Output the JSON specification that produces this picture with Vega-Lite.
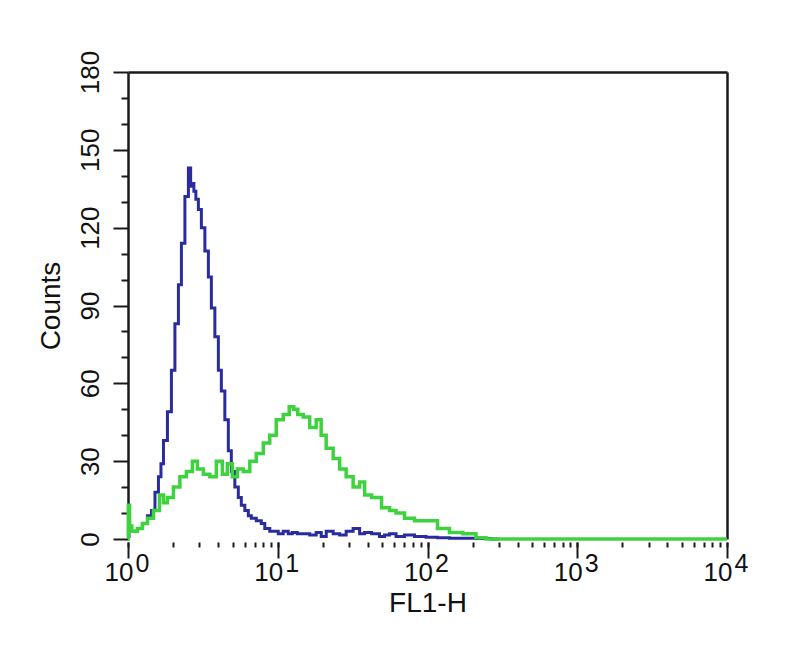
{
  "$schema": "https://vega.github.io/schema/vega-lite/v6.json",
  "width": 599,
  "height": 467,
  "autosize": "none",
  "padding": {"left": 128, "top": 72, "right": 73, "bottom": 117},
  "background": "white",
  "config": {
    "view": {"stroke": null},
    "font": "Liberation Sans",
    "axis": {"grid": false, "labelColor": "#111111", "titleColor": "#111111", "domainColor": "#1a1a1a", "tickColor": "#1a1a1a"}
  },
  "datasets": {
    "blue": [
      {"x": 1.0, "c": 1}, {"x": 1.031, "c": 3}, {"x": 1.113, "c": 3}, {"x": 1.202, "c": 4}, {"x": 1.298, "c": 6},
      {"x": 1.402, "c": 9}, {"x": 1.468, "c": 11}, {"x": 1.561, "c": 18}, {"x": 1.634, "c": 24}, {"x": 1.686, "c": 29},
      {"x": 1.765, "c": 38}, {"x": 1.905, "c": 49}, {"x": 1.995, "c": 65}, {"x": 2.121, "c": 83}, {"x": 2.222, "c": 98},
      {"x": 2.326, "c": 114}, {"x": 2.474, "c": 132}, {"x": 2.591, "c": 143}, {"x": 2.65, "c": 136}, {"x": 2.713, "c": 137},
      {"x": 2.797, "c": 134}, {"x": 2.884, "c": 131}, {"x": 3.02, "c": 127}, {"x": 3.162, "c": 120}, {"x": 3.363, "c": 111},
      {"x": 3.522, "c": 101}, {"x": 3.687, "c": 89}, {"x": 3.921, "c": 78}, {"x": 4.106, "c": 65}, {"x": 4.299, "c": 57},
      {"x": 4.571, "c": 46}, {"x": 4.786, "c": 34}, {"x": 5.012, "c": 26}, {"x": 5.33, "c": 20}, {"x": 5.581, "c": 16},
      {"x": 5.845, "c": 13}, {"x": 6.215, "c": 11}, {"x": 6.507, "c": 9}, {"x": 6.813, "c": 8}, {"x": 7.586, "c": 7},
      {"x": 7.943, "c": 6}, {"x": 8.447, "c": 4}, {"x": 9.261, "c": 3}, {"x": 9.848, "c": 3}, {"x": 10.31, "c": 2},
      {"x": 11.48, "c": 3}, {"x": 12.02, "c": 2}, {"x": 13.0, "c": 2.5}, {"x": 14.02, "c": 2}, {"x": 15.61, "c": 2},
      {"x": 17.11, "c": 1.5}, {"x": 19.05, "c": 2.5}, {"x": 20.0, "c": 1}, {"x": 22.22, "c": 3}, {"x": 24.74, "c": 2},
      {"x": 27.13, "c": 1.5}, {"x": 30.2, "c": 3}, {"x": 33.63, "c": 4}, {"x": 36.87, "c": 2}, {"x": 39.21, "c": 2.5},
      {"x": 45.71, "c": 2}, {"x": 50.0, "c": 1}, {"x": 53.3, "c": 1.5}, {"x": 58.45, "c": 2}, {"x": 65.07, "c": 1},
      {"x": 75.86, "c": 1.5}, {"x": 88.45, "c": 1}, {"x": 108.0, "c": 0.7}, {"x": 125.9, "c": 0.5}, {"x": 156.0, "c": 0.3},
      {"x": 190.0, "c": 0.3}, {"x": 232.0, "c": 0.2}, {"x": 300.0, "c": 0}
    ],
    "green": [
      {"x": 1.0, "c": 0}, {"x": 1.01, "c": 13}, {"x": 1.04, "c": 5}, {"x": 1.08, "c": 3}, {"x": 1.113, "c": 3},
      {"x": 1.202, "c": 4}, {"x": 1.298, "c": 6}, {"x": 1.402, "c": 8}, {"x": 1.561, "c": 11}, {"x": 1.686, "c": 17},
      {"x": 1.765, "c": 14}, {"x": 1.905, "c": 16}, {"x": 2.121, "c": 20}, {"x": 2.326, "c": 24}, {"x": 2.591, "c": 26},
      {"x": 2.797, "c": 30}, {"x": 3.02, "c": 27}, {"x": 3.363, "c": 25}, {"x": 3.687, "c": 24}, {"x": 4.106, "c": 30},
      {"x": 4.434, "c": 25}, {"x": 4.786, "c": 29}, {"x": 5.17, "c": 24}, {"x": 5.581, "c": 27}, {"x": 6.215, "c": 26},
      {"x": 6.813, "c": 30}, {"x": 7.586, "c": 33}, {"x": 8.447, "c": 37}, {"x": 9.261, "c": 40}, {"x": 10.31, "c": 46},
      {"x": 11.48, "c": 48}, {"x": 12.4, "c": 51}, {"x": 13.2, "c": 50}, {"x": 14.02, "c": 48}, {"x": 15.61, "c": 47},
      {"x": 17.11, "c": 43}, {"x": 19.05, "c": 46}, {"x": 19.95, "c": 40}, {"x": 22.22, "c": 35}, {"x": 24.74, "c": 31},
      {"x": 27.13, "c": 27}, {"x": 30.2, "c": 24}, {"x": 33.63, "c": 20}, {"x": 36.87, "c": 22}, {"x": 39.21, "c": 17},
      {"x": 45.71, "c": 16}, {"x": 53.3, "c": 12}, {"x": 58.45, "c": 11}, {"x": 65.07, "c": 10}, {"x": 75.86, "c": 8},
      {"x": 88.45, "c": 7}, {"x": 108.0, "c": 7}, {"x": 125.9, "c": 4}, {"x": 156.0, "c": 2.5}, {"x": 190.5, "c": 2},
      {"x": 232.6, "c": 0.5}, {"x": 260.0, "c": 0}, {"x": 10000.0, "c": 0}
    ]
  },
  "layer": [
    {
      "data": {"name": "blue"},
      "mark": {"type": "line", "interpolate": "step", "color": "#2b2ba0", "strokeWidth": 3},
      "encoding": {
        "x": {
          "field": "x", "type": "quantitative",
          "scale": {"type": "log", "domain": [1, 10000], "nice": false},
          "axis": {
            "orient": "bottom",
            "values": [1,2,3,4,5,6,7,8,9,10,20,30,40,50,60,70,80,90,100,200,300,400,500,600,700,800,900,1000,2000,3000,4000,5000,6000,7000,8000,9000,10000],
            "domain": false, "offset": 3, "tickSize": 5, "tickWidth": 2,
            "labelExpr": "indexof([1,10,100,1000,10000], datum.value) >= 0 ? '10' : ''",
            "labelFontSize": 26, "labelAlign": "right", "labelOffset": 5, "labelPadding": 12, "labelBaseline": "top",
            "labelOverlap": false, "labelBound": false, "labelFlush": false,
            "title": "FL1-H", "titleFontSize": 28, "titleFontWeight": "normal", "titlePadding": 4
          }
        },
        "y": {
          "field": "c", "type": "quantitative",
          "scale": {"domain": [0, 180], "nice": false, "zero": true},
          "axis": {
            "orient": "left",
            "values": [0,10,20,30,40,50,60,70,80,90,100,110,120,130,140,150,160,170,180],
            "domainWidth": 2.5, "tickWidth": 2,
            "tickSize": {"condition": {"test": "datum.value % 30 === 0", "value": 15}, "value": 7},
            "labelExpr": "datum.value % 30 === 0 ? datum.label : ''",
            "labelAngle": -90, "labelAlign": "center", "labelBaseline": "bottom", "labelPadding": 10,
            "labelFontSize": 26, "labelOverlap": false, "labelBound": false, "labelFlush": false,
            "title": "Counts", "titleFontSize": 28, "titleFontWeight": "normal", "titlePadding": 12
          }
        }
      }
    },
    {
      "data": {"name": "green"},
      "mark": {"type": "line", "interpolate": "step", "color": "#3fd23f", "strokeWidth": 3.5},
      "encoding": {
        "x": {
          "field": "x", "type": "quantitative",
          "scale": {"type": "log", "domain": [1, 10000], "nice": false},
          "axis": {
            "orient": "bottom",
            "values": [1, 10, 100, 1000, 10000],
            "domain": false, "offset": 3, "tickSize": 16, "tickWidth": 2,
            "labelExpr": "format(log(datum.value)/LN10, '.0f')",
            "labelFontSize": 25, "labelAlign": "left", "labelOffset": 7, "labelPadding": -7, "labelBaseline": "top",
            "labelOverlap": false, "labelBound": false, "labelFlush": false,
            "title": null
          }
        },
        "y": {
          "field": "c", "type": "quantitative",
          "scale": {"domain": [0, 180], "nice": false, "zero": true},
          "axis": {"orient": "right", "domain": true, "domainWidth": 2.5, "ticks": false, "labels": false, "title": null}
        }
      }
    },
    {
      "data": {"name": "green"},
      "mark": {"type": "line", "opacity": 0},
      "encoding": {
        "x": {
          "field": "x", "type": "quantitative",
          "scale": {"type": "log", "domain": [1, 10000], "nice": false},
          "axis": {"orient": "top", "domain": true, "domainWidth": 2.5, "ticks": false, "labels": false, "title": null}
        },
        "y": {
          "field": "c", "type": "quantitative",
          "scale": {"domain": [0, 180], "nice": false, "zero": true},
          "axis": null
        }
      }
    }
  ],
  "resolve": {"axis": {"x": "independent", "y": "independent"}}
}
